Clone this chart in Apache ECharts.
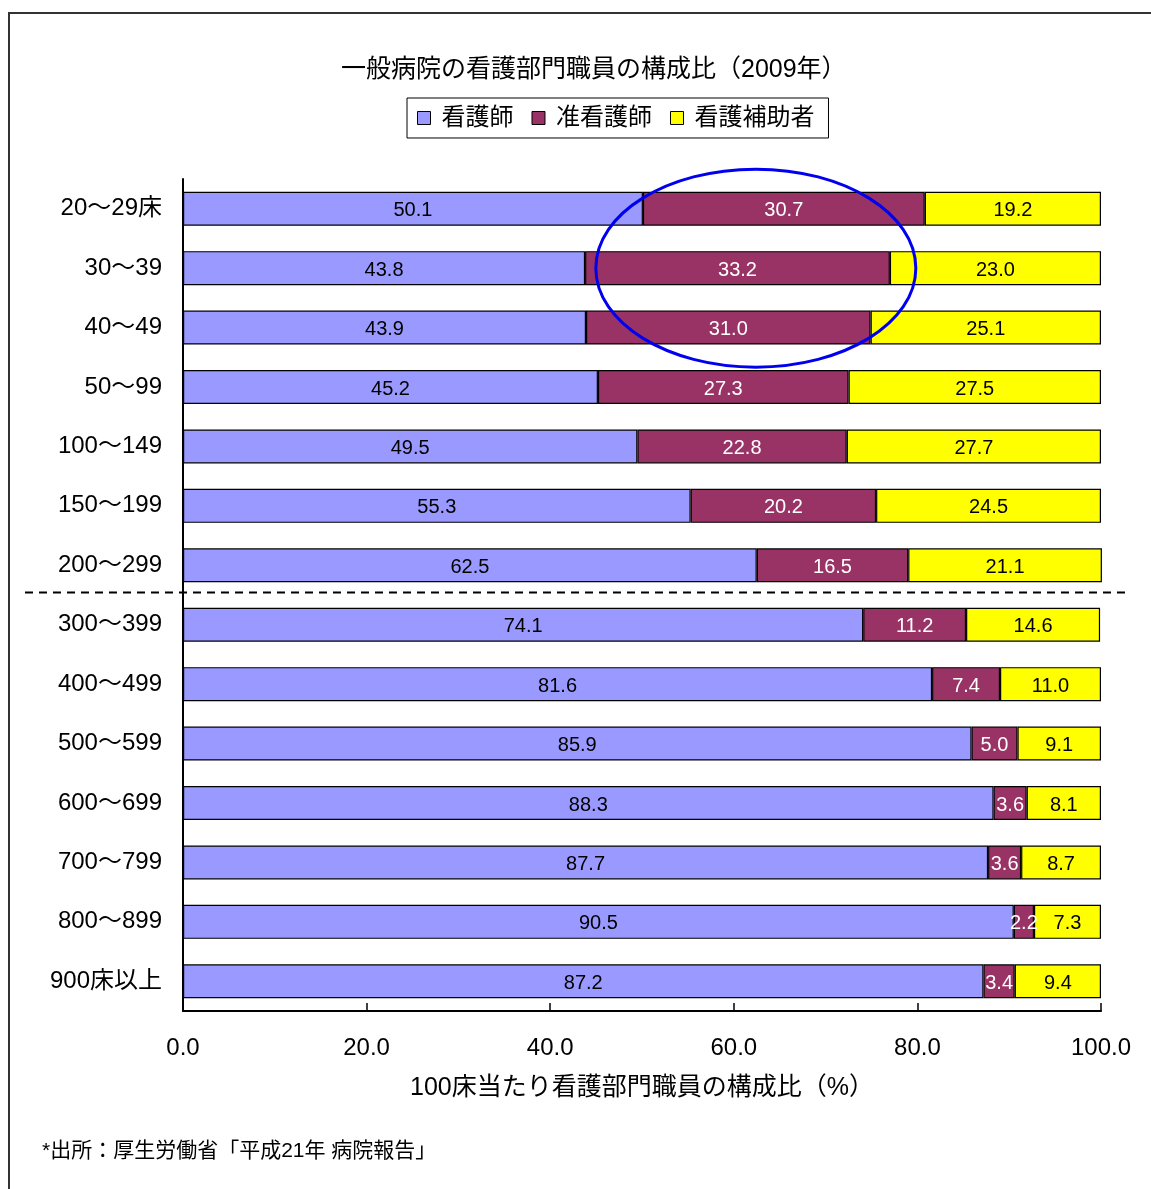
<!DOCTYPE html>
<html>
<head>
<meta charset="utf-8">
<script src="https://cdn.jsdelivr.net/npm/echarts@6/dist/echarts.min.js"></script>
<style>
  html, body { margin: 0; padding: 0; background: #fff; }
  #chart { width: 1151px; height: 1189px; }
</style>
</head>
<body>
<div id="chart"></div>
<script>
// Bed-size groups of general hospitals
const categories = [
  '20～29床', '30～39', '40～49', '50～99', '100～149', '150～199', '200～299',
  '300～399', '400～499', '500～599', '600～699', '700～799', '800～899', '900床以上'
];
// Share of nursing staff per 100 beds (%)
const nurses = [50.1, 43.8, 43.9, 45.2, 49.5, 55.3, 62.5, 74.1, 81.6, 85.9, 88.3, 87.7, 90.5, 87.2];
const assistantNurses = [30.7, 33.2, 31.0, 27.3, 22.8, 20.2, 16.5, 11.2, 7.4, 5.0, 3.6, 3.6, 2.2, 3.4];
const nursingAides = [19.2, 23.0, 25.1, 27.5, 27.7, 24.5, 21.1, 14.6, 11.0, 9.1, 8.1, 8.7, 7.3, 9.4];
const xTicks = [0, 20, 40, 60, 80, 100];

const seriesNames = ['看護師', '准看護師', '看護補助者'];
const seriesColors = ['#9999FF', '#993366', '#FFFF00'];
const labelColors = ['#000', '#fff', '#000'];

const FONT = '"Liberation Sans", "Noto Sans CJK JP", sans-serif';

const chart = echarts.init(document.getElementById('chart'), null, { renderer: 'canvas' });

function makeSeries(i, data) {
  return {
    name: seriesNames[i],
    type: 'bar',
    stack: 'total',
    data: data,
    barWidth: 34,
    clip: false,
    itemStyle: { color: seriesColors[i], borderColor: '#000', borderWidth: 1.2 },
    label: {
      show: true,
      position: 'inside',
      color: labelColors[i],
      fontSize: 20,
      fontFamily: FONT,
      offset: [0, 2],
      formatter: p => p.value.toFixed(1)
    },
    emphasis: { disabled: true }
  };
}

const option = {
  backgroundColor: '#fff',
  animation: false,
  title: {
    text: '一般病院の看護部門職員の構成比（2009年）',
    left: 336,
    top: 53,
    textStyle: { fontSize: 25, fontWeight: 'normal', color: '#000', fontFamily: FONT }
  },
  legend: {
    data: seriesNames,
    left: 407,
    top: 98,
    orient: 'horizontal',
    borderColor: '#000',
    borderWidth: 1,
    padding: [8, 14, 8, 10],
    itemGap: 18,
    itemWidth: 13,
    itemHeight: 13,
    icon: 'rect',
    itemStyle: { borderColor: '#000', borderWidth: 1 },
    textStyle: { fontSize: 24, color: '#000', fontFamily: FONT, padding: [0, 0, 0, 6] }
  },
  grid: { left: 183, right: 50, top: 179, bottom: 178, containLabel: false },
  xAxis: {
    type: 'value',
    min: xTicks[0],
    max: xTicks[xTicks.length - 1],
    interval: xTicks[1] - xTicks[0],
    name: '100床当たり看護部門職員の構成比（%）',
    nameLocation: 'middle',
    nameGap: 65,
    nameTextStyle: { fontSize: 25, color: '#000', fontFamily: FONT },
    axisLine: { show: true, lineStyle: { color: '#000', width: 2 } },
    axisTick: { show: true, inside: true, length: 8, lineStyle: { color: '#000', width: 1.5 } },
    axisLabel: { fontSize: 24, color: '#000', margin: 25, fontFamily: FONT, formatter: v => v.toFixed(1) },
    splitLine: { show: false }
  },
  yAxis: {
    type: 'category',
    data: categories,
    inverse: true,
    axisLine: { show: true, lineStyle: { color: '#000', width: 2 } },
    axisTick: { show: false },
    axisLabel: { fontSize: 24, color: '#000', margin: 21, fontFamily: FONT, lineHeight: 24, padding: [6, 0, 0, 0] }
  },
  series: [
    makeSeries(0, nurses),
    makeSeries(1, assistantNurses),
    makeSeries(2, nursingAides)
  ]
};

chart.setOption(option);

// Overlay: frame, divider between the <300 and >=300 bed groups, highlight ellipse, source note
const yA = chart.convertToPixel({ yAxisIndex: 0 }, categories[6]);
const yB = chart.convertToPixel({ yAxisIndex: 0 }, categories[7]);
const dividerY = Math.round((yA + yB) / 2) - 2.5;
const ellipseCenter = chart.convertToPixel({ gridIndex: 0 }, [62.4, categories[1]]);

chart.setOption({
  graphic: [
    {
      type: 'rect',
      shape: { x: 9, y: 13, width: 1300, height: 1300 },
      style: { fill: 'none', stroke: '#333', lineWidth: 2 },
      silent: true
    },
    {
      type: 'line',
      shape: { x1: 25, y1: dividerY, x2: 1126, y2: dividerY },
      style: { stroke: '#000', lineWidth: 2, lineDash: [8, 6] },
      silent: true,
      z: 100
    },
    {
      type: 'ellipse',
      shape: { cx: ellipseCenter[0], cy: ellipseCenter[1], rx: 160, ry: 99 },
      style: { fill: 'none', stroke: '#0000EE', lineWidth: 3 },
      silent: true,
      z: 100
    },
    {
      type: 'text',
      left: 42,
      top: 1141,
      style: {
        text: '*出所：厚生労働省「平成21年 病院報告」',
        fontSize: 21,
        fill: '#000',
        fontFamily: FONT
      },
      silent: true
    }
  ]
});
</script>
</body>
</html>
